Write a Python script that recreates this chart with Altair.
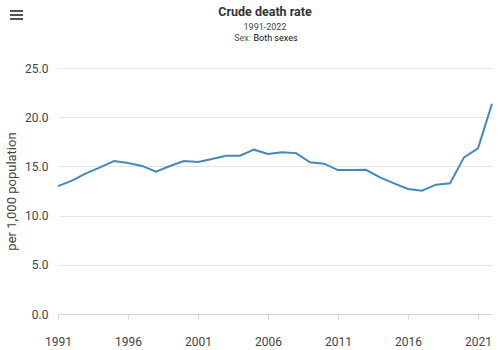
import altair as alt
import pandas as pd

years = list(range(1991, 2023))
rates = [13.0, 13.55, 14.3, 14.9, 15.55, 15.35, 15.05, 14.46, 15.04, 15.55,
         15.45, 15.75, 16.09, 16.09, 16.7, 16.26, 16.43, 16.35, 15.42, 15.28,
         14.63, 14.63, 14.66, 13.89, 13.28, 12.7, 12.53, 13.14, 13.28, 15.92,
         16.84, 21.37]
x_ticks = [1991, 1996, 2001, 2006, 2011, 2016, 2021]
y_ticks = [0, 5, 10, 15, 20, 25]
title_text = "Crude death rate"
period_text = "1991-2022"
sex_label = "Sex:"
sex_value = "Both sexes"

df = pd.DataFrame({"year": years, "rate": rates})
FONT = "Roboto"

line = alt.Chart(df).mark_line(color="#4289bd", strokeWidth=2).encode(
    x=alt.X("year:Q",
            scale=alt.Scale(domain=[1991, 2022], nice=False, zero=False),
            axis=alt.Axis(values=x_ticks, format="d", title=None, grid=False,
                          domainColor="#d6d6d6", tickColor="#d6d6d6", tickSize=5,
                          labelFlush=False,
                          labelPadding=17, labelFontSize=12, labelColor="#444",
                          labelFont=FONT)),
    y=alt.Y("rate:Q",
            scale=alt.Scale(domain=[0, 25], nice=False),
            axis=alt.Axis(values=y_ticks, format=".1f", title="per 1,000 population",
                          domain=False, ticks=False, labelPadding=10,
                          gridColor="#e6e6e6", labelFontSize=12, labelColor="#444",
                          labelFont=FONT, titleFont=FONT, titleFontSize=13,
                          titleFontWeight="normal", titleColor="#444",
                          titlePadding=6)),
)

base = alt.Chart(df.head(1))

def label(text, x, y, size, color, weight="normal", align="center"):
    return base.mark_text(text=text, font=FONT, fontSize=size, color=color,
                          fontWeight=weight, align=align, baseline="alphabetic").encode(
        x=alt.value(x), y=alt.value(y))

texts = [
    label(title_text, 207, -52, 12.5, "#333", "bold"),
    label(period_text, 207, -38.5, 9, "#444"),
    label(sex_label, 193, -27.5, 9, "#555", align="right"),
    label(sex_value, 195.5, -27.5, 9, "#111", align="left"),
]

bars = [
    base.mark_rule(color="#555", strokeWidth=2).encode(
        x=alt.value(-48), x2=alt.value(-35), y=alt.value(dy))
    for dy in (-57, -53, -49)
]

chart = alt.layer(line, *texts, *bars).properties(
    width=434, height=246,
    autosize=alt.AutoSizeParams(type="none"),
    padding={"left": 58, "top": 68, "right": 11, "bottom": 36},
).configure_view(stroke=None)

chart.save("out.html", embed_options={"renderer": "svg", "actions": False})
